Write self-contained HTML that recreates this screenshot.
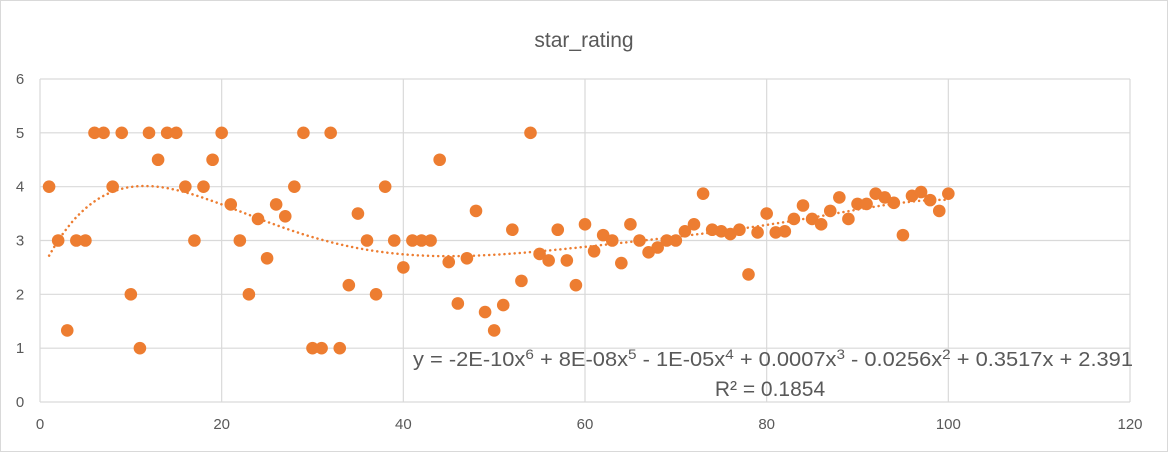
<!DOCTYPE html>
<html><head><meta charset="utf-8"><style>
html,body{margin:0;padding:0;background:#fff;}
svg{display:block;font-family:"Liberation Sans",sans-serif;}
</style></head><body>
<svg id="chart" width="1168" height="452" viewBox="0 0 1168 452">
<rect x="0.5" y="0.5" width="1167" height="451" fill="#fff" stroke="#d9d9d9"/>
<text x="584" y="47" text-anchor="middle" font-size="21" fill="#595959">star_rating</text>
<g id="grid"></g><g id="ticks"></g><g id="trend"></g><g id="points"></g>
<text x="413" y="366" font-size="20" fill="#595959" textLength="720" lengthAdjust="spacingAndGlyphs">y = -2E-10x<tspan dy="-7" font-size="14">6</tspan><tspan dy="7"> + 8E-08x</tspan><tspan dy="-7" font-size="14">5</tspan><tspan dy="7"> - 1E-05x</tspan><tspan dy="-7" font-size="14">4</tspan><tspan dy="7"> + 0.0007x</tspan><tspan dy="-7" font-size="14">3</tspan><tspan dy="7"> - 0.0256x</tspan><tspan dy="-7" font-size="14">2</tspan><tspan dy="7"> + 0.3517x + 2.391</tspan></text>
<text x="770" y="396" text-anchor="middle" font-size="21" fill="#595959">R² = 0.1854</text>
</svg>
<script>
const xTicks=[0,20,40,60,80,100,120];
const yTicks=[0,1,2,3,4,5,6];
const ratings=[4,3,1.33,3,3,5,5,4,5,2,1,5,4.5,5,5,4,3,4,4.5,5,3.67,3,2,3.4,2.67,3.67,3.45,4,5,1,1,5,1,2.17,3.5,3,2,4,3,2.5,3,3,3,4.5,2.6,1.83,2.67,3.55,1.67,1.33,1.8,3.2,2.25,5,2.75,2.63,3.2,2.63,2.17,3.3,2.8,3.1,3.0,2.58,3.3,3.0,2.78,2.87,3.0,3.0,3.17,3.3,3.87,3.2,3.17,3.12,3.2,2.37,3.15,3.5,3.15,3.17,3.4,3.65,3.4,3.3,3.55,3.8,3.4,3.68,3.68,3.87,3.8,3.7,3.1,3.83,3.9,3.75,3.55,3.87];
const NS="http://www.w3.org/2000/svg";
const X0=40,X1=1130,Y0=402,Y1=79;
const sx=v=>X0+(v-0)/(120-0)*(X1-X0);
const sy=v=>Y0-(v-0)/(6-0)*(Y0-Y1);
function mk(tag,attrs,parent){const e=document.createElementNS(NS,tag);for(const k in attrs)e.setAttribute(k,attrs[k]);parent.appendChild(e);return e;}
const grid=document.getElementById('grid'),ticks=document.getElementById('ticks');
yTicks.forEach(t=>{
 const l=mk('line',{x1:X0,x2:X1,y1:sy(t),y2:sy(t),stroke:'#d9d9d9','stroke-width':1.2},grid);
 
 
 const tx=mk('text',{x:X0-20,y:sy(t)+5,'text-anchor':'middle','font-size':15,fill:'#595959'},ticks);
 tx.textContent=t;
 
 
});
xTicks.forEach(t=>{
 const l=mk('line',{x1:sx(t),x2:sx(t),y1:Y1,y2:Y0,stroke:'#d9d9d9','stroke-width':1.2},grid);
 
 
 const tx=mk('text',{x:sx(t),y:Y0+27,'text-anchor':'middle','font-size':15,fill:'#595959'},ticks);
 tx.textContent=t;
 
 
});
const n=ratings.length,deg=6,A=[],b=[];
for(let i=0;i<=deg;i++){A.push(new Array(deg+1).fill(0));b.push(0);}
ratings.forEach((y,i)=>{const x=(i+1)/100;for(let r=0;r<=deg;r++){b[r]+=y*Math.pow(x,r);for(let c=0;c<=deg;c++)A[r][c]+=Math.pow(x,r+c);}});
for(let c=0;c<=deg;c++){let p=c;for(let r=c+1;r<=deg;r++)if(Math.abs(A[r][c])>Math.abs(A[p][c]))p=r;[A[c],A[p]]=[A[p],A[c]];[b[c],b[p]]=[b[p],b[c]];
 for(let r=0;r<=deg;r++){if(r===c)continue;const f=A[r][c]/A[c][c];for(let k=c;k<=deg;k++)A[r][k]-=f*A[c][k];b[r]-=f*b[c];}}
const coef=b.map((v,i)=>v/A[i][i]);
const poly=x=>{const s=x/100;let y=0;for(let i=deg;i>=0;i--)y=y*s+coef[i];return y;};
let d='';for(let x=1;x<=100;x+=0.5){d+=(x===1?'M':'L')+sx(x).toFixed(1)+','+sy(poly(x)).toFixed(1);}
const tl=mk('path',{d:d,fill:'none',stroke:'#ED7D31','stroke-width':2.5,'stroke-dasharray':'0.1 5','stroke-linecap':'round'},document.getElementById('trend'));


const pts=document.getElementById('points');
ratings.forEach((v,i)=>{
 const c=mk('circle',{cx:sx(i+1),cy:sy(v),r:6.3,fill:'#ED7D31'},pts);
 
 
});
</script>
</body></html>
